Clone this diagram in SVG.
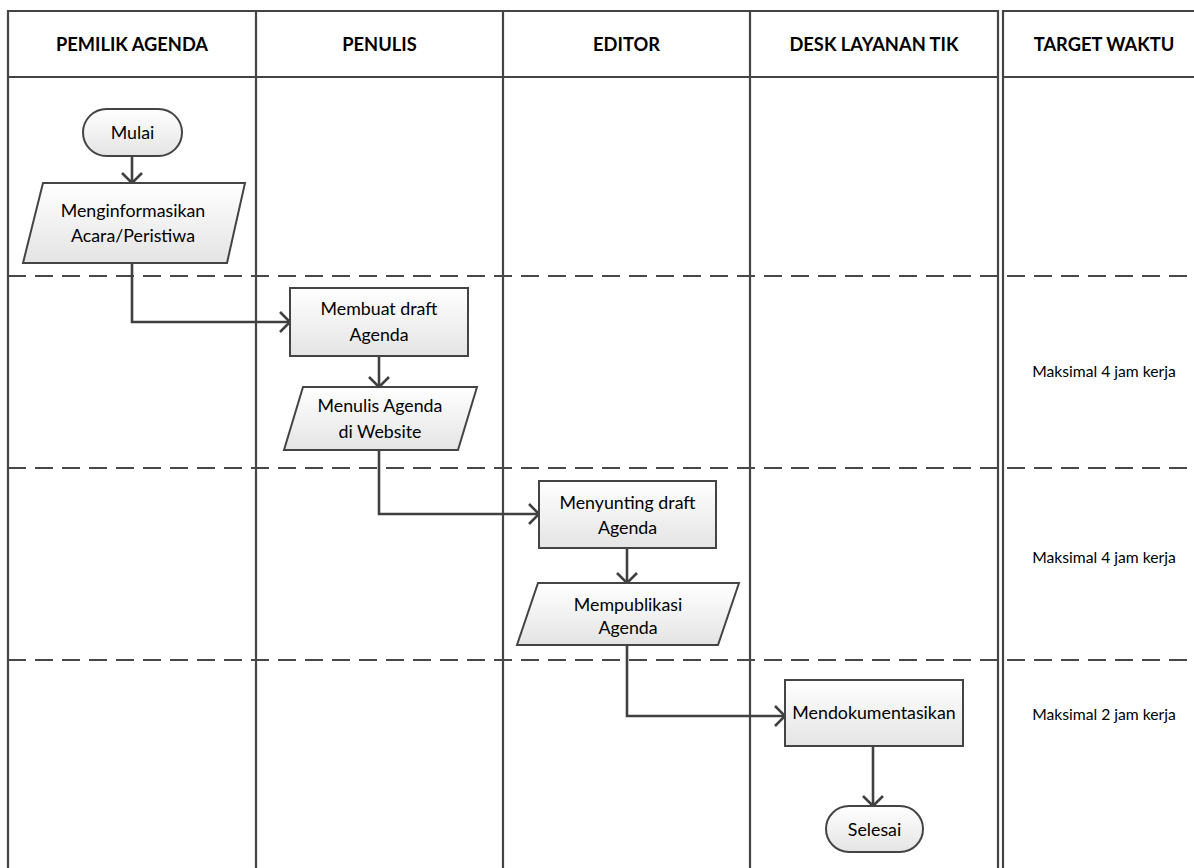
<svg xmlns="http://www.w3.org/2000/svg" width="1194" height="868" viewBox="0 0 1194 868">
  <defs>
    <linearGradient id="shapeFill" x1="0" y1="0" x2="0" y2="1">
      <stop offset="0" stop-color="#ffffff"/>
      <stop offset="1" stop-color="#e4e4e4"/>
    </linearGradient>
    <marker id="chevron" viewBox="0 0 12 22" refX="11" refY="11" markerWidth="12" markerHeight="22" markerUnits="userSpaceOnUse" orient="auto">
      <path d="M1,1 L11,11 L1,21" fill="none" stroke="#404040" stroke-width="2.6"/>
    </marker>
  </defs>
  <style>
    .grid { stroke: #444444; stroke-width: 2.2; fill: none; }
    .dash { stroke: #484848; stroke-width: 2; stroke-dasharray: 18 9; fill: none; }
    .shape { fill: url(#shapeFill); stroke: #444444; stroke-width: 2; }
    .conn { fill: none; stroke: #404040; stroke-width: 2.6; marker-end: url(#chevron); }
    .head { font-family: Lato, "Liberation Sans", sans-serif; font-weight: bold; font-size: 18.3px; fill: #000; text-anchor: middle; }
    .lbl { font-family: Lato, "Liberation Sans", sans-serif; font-size: 17.8px; fill: #000; text-anchor: middle; }
    .time { font-family: Lato, "Liberation Sans", sans-serif; font-size: 15.7px; fill: #000; text-anchor: middle; }
  </style>
  <rect width="1194" height="868" fill="#ffffff"/>

  <!-- swimlane table -->
  <g id="lanes">
    <path class="grid" d="M8,868 V11 H998 V868 M256,11 V868 M503,11 V868 M750,11 V868 M8,77 H998"/>
    <path class="grid" d="M1003,868 V11 H1196 M1003,77 H1196"/>
    <path class="dash" d="M8,276 H1194 M8,468 H1194 M8,660 H1194"/>
    <text class="head" x="132" y="51">PEMILIK AGENDA</text>
    <text class="head" x="379.5" y="51">PENULIS</text>
    <text class="head" x="626.5" y="51">EDITOR</text>
    <text class="head" x="874" y="51">DESK LAYANAN TIK</text>
    <text class="head" x="1104" y="51">TARGET WAKTU</text>
  </g>

  <!-- connectors -->
  <g id="connectors">
    <path class="conn" d="M132,157 V183"/>
    <path class="conn" d="M132,263 V322 H290"/>
    <path class="conn" d="M379,356 V387"/>
    <path class="conn" d="M379,450 V514 H539"/>
    <path class="conn" d="M627,548 V583"/>
    <path class="conn" d="M627,645 V716 H785"/>
    <path class="conn" d="M873,746 V806"/>
  </g>

  <g id="mulai">
    <rect class="shape" x="83" y="109" width="99" height="47" rx="23.5"/>
    <text class="lbl" x="132.5" y="139">Mulai</text>
  </g>
  <g id="menginformasikan">
    <polygon class="shape" points="43,183 245,183 227,263 23,263"/>
    <text class="lbl" x="133" y="217">Menginformasikan</text>
    <text class="lbl" x="133" y="242">Acara/Peristiwa</text>
  </g>
  <g id="membuat-draft">
    <rect class="shape" x="290" y="288" width="178" height="68"/>
    <text class="lbl" x="379" y="315">Membuat draft</text>
    <text class="lbl" x="379" y="341">Agenda</text>
  </g>
  <g id="menulis-agenda">
    <polygon class="shape" points="303,387 477,387 458,450 284,450"/>
    <text class="lbl" x="380" y="412">Menulis Agenda</text>
    <text class="lbl" x="380" y="438">di Website</text>
  </g>
  <g id="menyunting">
    <rect class="shape" x="539" y="481" width="177" height="67"/>
    <text class="lbl" x="627.5" y="509">Menyunting draft</text>
    <text class="lbl" x="627.5" y="534">Agenda</text>
  </g>
  <g id="mempublikasi">
    <polygon class="shape" points="538,583 739,583 718,645 517,645"/>
    <text class="lbl" x="628" y="611">Mempublikasi</text>
    <text class="lbl" x="628" y="634">Agenda</text>
  </g>
  <g id="mendokumentasikan">
    <rect class="shape" x="785" y="680" width="178" height="66"/>
    <text class="lbl" x="874" y="719">Mendokumentasikan</text>
  </g>
  <g id="selesai">
    <rect class="shape" x="826" y="806" width="97" height="46" rx="23"/>
    <text class="lbl" x="874.5" y="836">Selesai</text>
  </g>

  <g id="target-waktu">
    <text class="time" x="1104" y="377">Maksimal 4 jam kerja</text>
    <text class="time" x="1104" y="563">Maksimal 4 jam kerja</text>
    <text class="time" x="1104" y="720">Maksimal 2 jam kerja</text>
  </g>
</svg>
